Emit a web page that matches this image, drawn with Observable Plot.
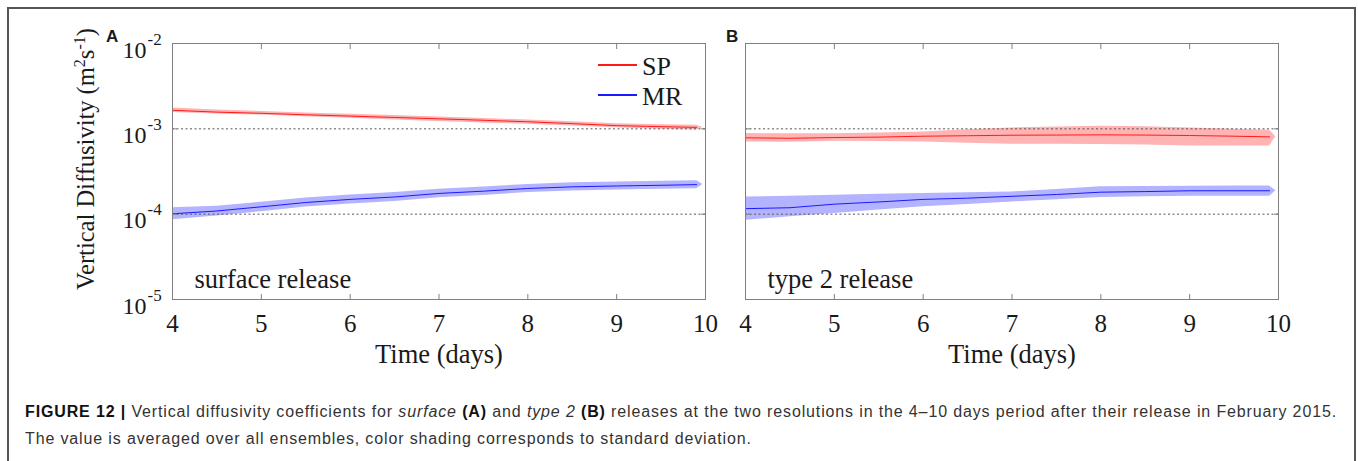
<!DOCTYPE html>
<html><head><meta charset="utf-8">
<script src="https://cdn.jsdelivr.net/npm/d3@7"></script>
<script src="https://cdn.jsdelivr.net/npm/@observablehq/plot@0.6"></script>
<style>
html,body{margin:0;padding:0;background:#fff}
body{width:1358px;height:461px;overflow:hidden;position:relative;font-family:"Liberation Serif","Times New Roman",serif}
#frame{position:absolute;left:7px;top:7px;width:1349px;height:600px;border:2px solid #555;border-bottom:none;box-sizing:border-box}
#pa{position:absolute;left:0;top:0}
#pb{position:absolute;left:720px;top:0}
#overlay{position:absolute;left:0;top:0}
#caption{position:absolute;left:25px;top:398px;font-family:"Liberation Sans",Arial,sans-serif;font-size:16px;color:#333;line-height:27px;white-space:nowrap}
#caption b{color:#111}
</style></head><body>
<div id="frame"></div>
<div id="pa"></div>
<div id="pb"></div>
<svg id="overlay" width="1358" height="380" font-family="Liberation Serif" fill="#1a1a1a">
  <text transform="translate(94,159) rotate(-90)" text-anchor="middle" font-size="24.5">Vertical Diffusivity (m<tspan dy="-9" font-size="16">2</tspan><tspan dy="9">s</tspan><tspan dy="-9" font-size="16">-1</tspan><tspan dy="9">)</tspan></text>
  <text x="106" y="42" font-family="Liberation Sans" font-weight="bold" font-size="17">A</text>
  <text x="726" y="42" font-family="Liberation Sans" font-weight="bold" font-size="17">B</text>
  <line x1="598" x2="637" y1="65" y2="65" stroke="#ff1a1a" stroke-width="2"/>
  <line x1="598" x2="637" y1="95" y2="95" stroke="#1a1aff" stroke-width="2"/>
  <text x="642" y="75" font-size="26">SP</text>
  <text x="642" y="105" font-size="26">MR</text>
</svg>
<div id="caption"><span id="l1"><b>FIGURE 12 |</b> Vertical diffusivity coefficients for <i>surface</i> <b>(A)</b> and <i>type 2</i> <b>(B)</b> releases at the two resolutions in the 4–10 days period after their release in February 2015.</span><br>The value is averaged over all ensembles, color shading corresponds to standard deviation.</div>
<script>
// ---- data ----
const days     = [4, 4.5, 5, 5.5, 6, 6.5, 7, 7.5, 8, 8.5, 9, 9.5, 9.9];
const bandDays = [4, 4.5, 5, 5.5, 6, 6.5, 7, 7.5, 8, 8.5, 9, 9.5, 9.9, 9.97];

// Panel A: surface release
const spA    = [1.65e-3, 1.57e-3, 1.52e-3, 1.46e-3, 1.41e-3, 1.36e-3, 1.31e-3, 1.26e-3, 1.21e-3, 1.15e-3, 1.09e-3, 1.06e-3, 1.04e-3];
const spA_lo = [1.55e-3, 1.49e-3, 1.45e-3, 1.39e-3, 1.33e-3, 1.27e-3, 1.22e-3, 1.17e-3, 1.13e-3, 1.08e-3, 1.03e-3, 0.99e-3, 0.97e-3, 1.04e-3];
const spA_hi = [1.76e-3, 1.66e-3, 1.60e-3, 1.53e-3, 1.48e-3, 1.43e-3, 1.38e-3, 1.32e-3, 1.27e-3, 1.21e-3, 1.15e-3, 1.12e-3, 1.10e-3, 1.04e-3];
const mrA    = [1.01e-4, 1.09e-4, 1.22e-4, 1.37e-4, 1.49e-4, 1.59e-4, 1.75e-4, 1.86e-4, 2.00e-4, 2.09e-4, 2.14e-4, 2.18e-4, 2.22e-4];
const mrA_lo = [0.86e-4, 0.95e-4, 1.07e-4, 1.21e-4, 1.32e-4, 1.41e-4, 1.56e-4, 1.66e-4, 1.79e-4, 1.87e-4, 1.92e-4, 1.96e-4, 1.99e-4, 2.22e-4];
const mrA_hi = [1.19e-4, 1.24e-4, 1.38e-4, 1.55e-4, 1.68e-4, 1.79e-4, 1.96e-4, 2.08e-4, 2.23e-4, 2.33e-4, 2.38e-4, 2.43e-4, 2.47e-4, 2.22e-4];

// Panel B: type 2 release
const spB    = [7.85e-4, 7.75e-4, 7.90e-4, 8.00e-4, 8.20e-4, 8.30e-4, 8.42e-4, 8.45e-4, 8.50e-4, 8.45e-4, 8.35e-4, 8.20e-4, 8.05e-4];
const spB_lo = [7.03e-4, 6.95e-4, 7.16e-4, 7.10e-4, 7.03e-4, 6.79e-4, 6.61e-4, 6.58e-4, 6.55e-4, 6.45e-4, 6.31e-4, 6.31e-4, 6.31e-4, 8.05e-4];
const spB_hi = [8.81e-4, 8.75e-4, 8.77e-4, 8.95e-4, 9.21e-4, 9.77e-4, 1.026e-3, 1.05e-3, 1.074e-3, 1.06e-3, 1.026e-3, 0.99e-3, 0.964e-3, 8.05e-4];
const mrB    = [1.16e-4, 1.19e-4, 1.31e-4, 1.39e-4, 1.49e-4, 1.54e-4, 1.62e-4, 1.70e-4, 1.81e-4, 1.84e-4, 1.88e-4, 1.88e-4, 1.88e-4];
const mrB_lo = [0.85e-4, 0.93e-4, 1.02e-4, 1.12e-4, 1.22e-4, 1.30e-4, 1.39e-4, 1.48e-4, 1.57e-4, 1.60e-4, 1.62e-4, 1.62e-4, 1.62e-4, 1.88e-4];
const mrB_hi = [1.59e-4, 1.62e-4, 1.67e-4, 1.71e-4, 1.75e-4, 1.78e-4, 1.82e-4, 1.95e-4, 2.09e-4, 2.11e-4, 2.13e-4, 2.14e-4, 2.14e-4, 1.88e-4];

const xTicks   = [4, 5, 6, 7, 8, 9, 10];
const yTicks   = [1e-5, 1e-4, 1e-3, 1e-2];
const yExp     = ["-5", "-4", "-3", "-2"];
const refLines = [1e-3, 1e-4];

const GRAY = "#808080";
function panel({sp, spLo, spHi, mr, mrLo, mrHi, note, width, marginLeft, marginRight, yLabels}) {
  const line = vals => days.map((d, i) => ({day: d, v: vals[i]}));
  const band = (lo, hi) => bandDays.map((d, i) => ({day: d, lo: lo[i], hi: hi[i]}));
  const marks = [
    Plot.areaY(band(spLo, spHi), {x: "day", y1: "lo", y2: "hi", fill: "#ffb3b3"}),
    Plot.areaY(band(mrLo, mrHi), {x: "day", y1: "lo", y2: "hi", fill: "#b3b3ff"}),
    Plot.ruleY(refLines, {stroke: "#555", strokeDasharray: "2,2.5"}),
    Plot.lineY(line(sp), {x: "day", y: "v", stroke: "#ff1a1a", strokeWidth: 1}),
    Plot.lineY(line(mr), {x: "day", y: "v", stroke: "#1a1aff", strokeWidth: 1}),
    Plot.frame({stroke: GRAY}),
    Plot.axisX(xTicks, {anchor: "bottom", tickSize: -5, tickFormat: () => "", stroke: GRAY, label: null}),
    Plot.axisX(xTicks, {anchor: "top", tickSize: -5, tickFormat: () => "", stroke: GRAY, label: null}),
    Plot.axisY(yTicks, {anchor: "left", tickSize: -5, tickFormat: () => "", stroke: GRAY, label: null}),
    Plot.axisY(yTicks, {anchor: "right", tickSize: -5, tickFormat: () => "", stroke: GRAY, label: null}),
    Plot.text(xTicks, {x: d => d, frameAnchor: "bottom", dy: 32, lineAnchor: "bottom", text: d => String(d), fontSize: 25}),
    Plot.text(["Time (days)"], {frameAnchor: "bottom", dy: 63, lineAnchor: "bottom", fontSize: 26.5}),
    Plot.text([note], {frameAnchor: "bottom-left", dx: 22, dy: -12, textAnchor: "start", lineAnchor: "bottom", fontSize: 26.5})
  ];
  if (yLabels) {
    marks.push(
      Plot.text(yTicks, {y: d => d, frameAnchor: "left", dx: -26, dy: 14, textAnchor: "end", lineAnchor: "bottom", text: () => "10", fontSize: 24}),
      Plot.text(yTicks, {y: d => d, frameAnchor: "left", dx: -25, dy: 1, textAnchor: "start", lineAnchor: "bottom", text: (d, i) => yExp[i], fontSize: 17})
    );
  }
  return Plot.plot({
    width, height: 380, marginTop: 43, marginBottom: 81, marginLeft, marginRight,
    x: {domain: [4, 10]},
    y: {type: "log", domain: [1e-5, 1e-2]},
    style: {fontFamily: "Liberation Serif", fontSize: "24px", color: "#1a1a1a", background: "transparent", overflow: "visible", maxWidth: "none"},
    marks
  });
}

document.getElementById("pa").append(panel({
  sp: spA, spLo: spA_lo, spHi: spA_hi, mr: mrA, mrLo: mrA_lo, mrHi: mrA_hi,
  note: "surface release", width: 720, marginLeft: 172, marginRight: 15, yLabels: true
}));
document.getElementById("pb").append(panel({
  sp: spB, spLo: spB_lo, spHi: spB_hi, mr: mrB, mrLo: mrB_lo, mrHi: mrB_hi,
  note: "type 2 release", width: 600, marginLeft: 25, marginRight: 42, yLabels: false
}));

// stretch caption letter spacing so the first line spans the same width as in the reference
const l1 = document.getElementById("l1");
const w = l1.getBoundingClientRect().width;
const ls = (1312 - w) / l1.textContent.length;
document.getElementById("caption").style.letterSpacing = ls.toFixed(3) + "px";
</script>
</body></html>
